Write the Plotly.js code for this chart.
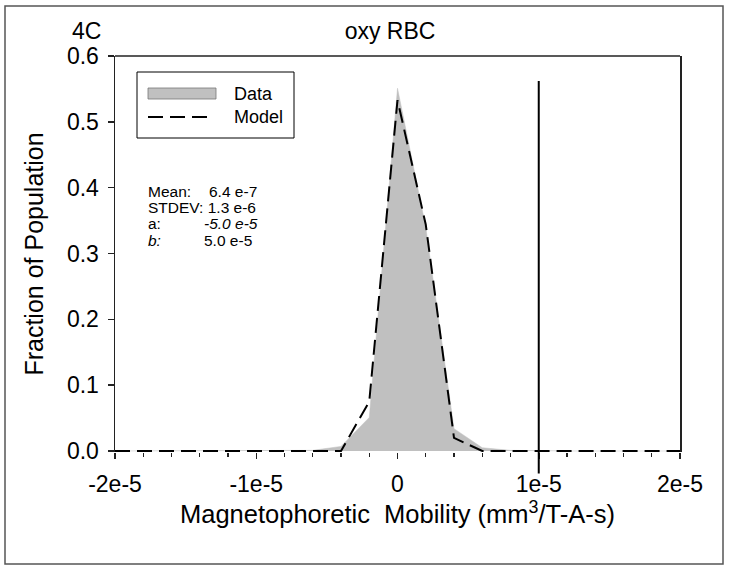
<!DOCTYPE html>
<html>
<head>
<meta charset="utf-8">
<script src="https://cdn.plot.ly/plotly-3.0.1.min.js"></script>
<style>
  html, body { margin: 0; padding: 0; background: #ffffff; }
  #plot { width: 729px; height: 571px; }
</style>
</head>
<body>
<div id="plot"></div>
<script>
// bin centres of the mobility histogram (mm^3/T-A-s)
const binCenters = [
    -2.0e-5, -1.8e-5, -1.6e-5, -1.4e-5, -1.2e-5, -1.0e-5, -8e-6, -6e-6, -4e-6, -2e-6,
    0, 2e-6, 4e-6, 6e-6, 8e-6, 1.0e-5, 1.2e-5, 1.4e-5, 1.6e-5, 1.8e-5, 2.0e-5
];
const dataFraction = [
    0, 0, 0, 0, 0, 0, 0, 0.001, 0.007, 0.051,
    0.551, 0.340, 0.034, 0.005, 0.001, 0, 0, 0, 0, 0, 0
];
const modelFraction = [
    0, 0, 0, 0, 0, 0, 0, 0, 0, 0.075,
    0.533, 0.344, 0.020, 0, 0, 0, 0, 0, 0, 0, 0
];

const xTickVals = [-2e-5, -1e-5, 0, 1e-5, 2e-5];
const xTickText = ['-2e-5', '-1e-5', '0', '1e-5', '2e-5'];
const yTickVals = [0, 0.1, 0.2, 0.3, 0.4, 0.5, 0.6];
const yTickText = ['0.0', '0.1', '0.2', '0.3', '0.4', '0.5', '0.6'];

// vertical reference line
const cutoffX = 1e-5;
const cutoffTop = 0.562;
const cutoffBottom = -0.034;

const seriesNames = ['Data', 'Model'];
const statLabels = ['Mean:', 'STDEV: 1.3 e-6', 'a:', '<i>b:</i>'];
const statValues = ['6.4 e-7', '', '<i>-5.0 e-5</i>', '5.0 e-5'];

const W = 729, H = 571;
const M = { l: 115, r: 49, t: 56, b: 119 };
const plotW = W - M.l - M.r;
const plotH = H - M.t - M.b;
const yMin = -0.0015, yMax = 0.6;

// pixel -> paper helpers
function px2x(px) { return (px - M.l) / plotW; }
function py2y(py) { return (H - M.b - py) / plotH; }
function val2y(v) { return (v - yMin) / (yMax - yMin); }

const font = 'Liberation Sans, Arial, Helvetica, sans-serif';
const dataGray = '#c0c0c0';
const modelDash = '15px,7px';

const dataTrace = {
    x: binCenters,
    y: dataFraction,
    mode: 'lines',
    name: seriesNames[0],
    fill: 'tozeroy',
    fillcolor: dataGray,
    line: { color: dataGray, width: 0.5 },
    showlegend: false
};
const modelTrace = {
    x: binCenters,
    y: modelFraction,
    mode: 'lines',
    name: seriesNames[1],
    line: { color: '#000000', width: 2, dash: modelDash },
    showlegend: false
};

function textNote(text, xpx, ypx, size, anchor) {
    return {
        text: text, xref: 'paper', yref: 'paper',
        x: px2x(xpx), y: py2y(ypx), xanchor: anchor || 'left', yanchor: 'middle',
        showarrow: false, font: { family: font, size: size, color: '#000' }
    };
}

const annotations = [textNote('4C', 86, 31, 23, 'center')];
statLabels.forEach((label, i) => {
    annotations.push(textNote(label, 146, 191 + i * 16.5, 15.5));
    if (statValues[i]) {
        annotations.push(textNote(statValues[i], i === 0 ? 207 : 202, 191 + i * 16.5, 15.5));
    }
});
// legend texts
annotations.push(textNote(seriesNames[0], 232, 94, 18));
annotations.push(textNote(seriesNames[1], 232, 117, 18));

const shapes = [
    // outer frame
    {
        type: 'rect', xref: 'paper', yref: 'paper',
        x0: px2x(5), x1: px2x(723), y0: py2y(564), y1: py2y(6),
        line: { color: '#555', width: 1.5 }
    },
    // top border of the plot box
    {
        type: 'line', xref: 'paper', yref: 'paper',
        x0: 0, x1: 1, y0: 1, y1: 1,
        line: { color: '#222', width: 1.5 }
    },
    // vertical marker
    {
        type: 'line', xref: 'x', yref: 'paper',
        x0: cutoffX, x1: cutoffX, y0: val2y(cutoffBottom), y1: val2y(cutoffTop),
        line: { color: '#000', width: 2 }
    },
    // legend box
    {
        type: 'rect', xref: 'paper', yref: 'paper',
        x0: px2x(137), x1: px2x(294), y0: py2y(138), y1: py2y(72),
        line: { color: '#000', width: 1 }, fillcolor: '#ffffff'
    },
    // legend swatches
    {
        type: 'rect', xref: 'paper', yref: 'paper',
        x0: px2x(148), x1: px2x(216), y0: py2y(99), y1: py2y(88),
        line: { color: '#777', width: 0.8 }, fillcolor: dataGray
    },
    {
        type: 'line', xref: 'paper', yref: 'paper',
        x0: px2x(148), x1: px2x(209), y0: py2y(117), y1: py2y(117),
        line: { color: '#000', width: 2, dash: modelDash }
    }
];

const layout = {
    width: W,
    height: H,
    margin: M,
    paper_bgcolor: '#ffffff',
    plot_bgcolor: '#ffffff',
    font: { family: font, color: '#000' },
    showlegend: false,
    title: {
        text: 'oxy RBC',
        x: 390 / W, xanchor: 'center',
        y: 1 - 31 / H, yanchor: 'middle',
        font: { family: font, size: 23, color: '#000' }
    },
    xaxis: {
        range: [-2e-5, 2e-5],
        tickvals: xTickVals,
        ticktext: xTickText,
        ticks: 'outside',
        ticklen: 6,
        tickwidth: 1.5,
        tickcolor: '#222',
        ticklabelstandoff: 5,
        showline: false,
        showgrid: false,
        zeroline: false,
        minor: { dtick: 2e-6, ticks: 'outside', ticklen: 4, tickwidth: 1.2, tickcolor: '#222', showgrid: false },
        tickfont: { family: font, size: 23, color: '#000' },
        title: {
            text: 'Magnetophoretic\u00a0 Mobility (mm<sup>3</sup>/T-A-s)',
            font: { family: font, size: 25.5, color: '#000' },
            standoff: 8
        }
    },
    yaxis: {
        range: [yMin, yMax],
        tickvals: yTickVals,
        ticktext: yTickText,
        ticks: 'outside',
        ticklen: 6,
        tickwidth: 1.5,
        tickcolor: '#222',
        ticklabelstandoff: 4,
        showline: true,
        mirror: true,
        linecolor: '#222',
        linewidth: 1.5,
        showgrid: false,
        zeroline: false,
        tickfont: { family: font, size: 23, color: '#000' },
        title: {
            text: 'Fraction of Population',
            font: { family: font, size: 25, color: '#000' },
            standoff: 16
        }
    },
    annotations: annotations,
    shapes: shapes
};

Plotly.newPlot('plot', [dataTrace, modelTrace], layout, { displayModeBar: false, staticPlot: true });
</script>
</body>
</html>
